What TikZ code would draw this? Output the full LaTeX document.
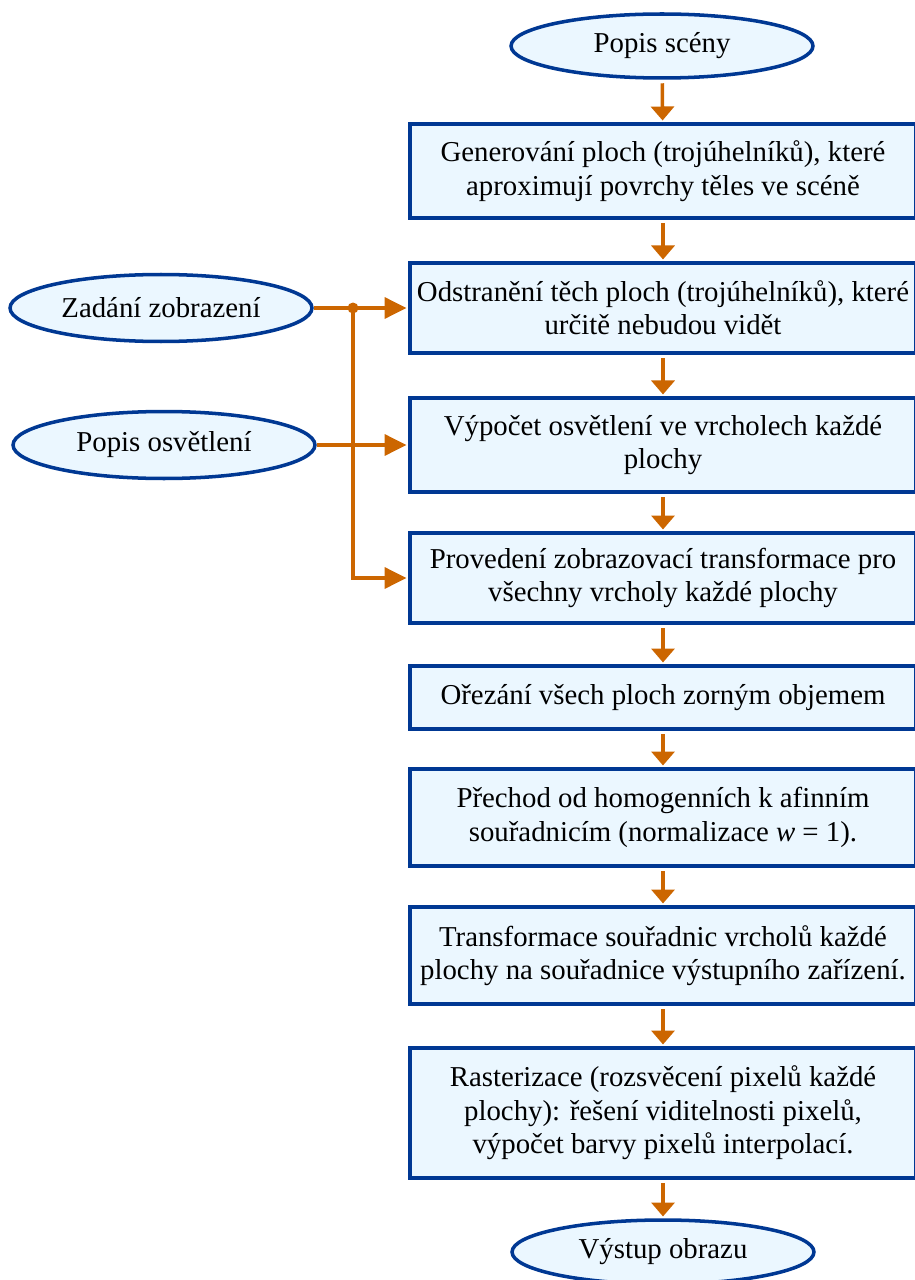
\documentclass[tikz,border=0pt]{standalone}
\usepackage{fontspec}
\setmainfont{Liberation Serif}
\usepackage{xcolor}
\usepackage{tikz}
\usetikzlibrary{shapes.geometric, arrows.meta, positioning}
\definecolor{boxblue}{RGB}{0, 56, 147}
\definecolor{paleblue}{RGB}{235, 247, 255}
\definecolor{flowtan}{RGB}{204, 102, 0}

\begin{document}
\begin{tikzpicture}[
        x=0.02cm, y=-0.02cm,
        font=\fontsize{16.4}{19}\selectfont,
        term/.style={ellipse, draw=boxblue, fill=paleblue, line width=2pt, minimum width=6.04cm, minimum height=1.28cm, inner sep=0pt, align=center},
        task/.style={rectangle, draw=boxblue, fill=paleblue, line width=2pt, minimum width=10.12cm, align=center, inner sep=2pt},
        vlink/.style={-{Triangle[width=0.46cm, length=0.28cm]}, line width=2pt, color=flowtan, shorten <=2pt, shorten >=1pt},
        hlink/.style={-{Triangle[width=0.42cm, length=0.44cm]}, line width=2pt, color=flowtan, shorten >=1pt},
        dot/.style={circle, fill=flowtan, inner sep=0pt, minimum size=0.22cm}
    ]
        \useasboundingbox (0,0) rectangle (915,1280);

        % Main Column
        \node[term] (scene) at (662, 46) {Popis scény};
        \node[task, minimum height=1.88cm] (b1) at (663, 171) {Generování ploch (trojúhelníků), které\\aproximují povrchy těles ve scéně};
        \node[task, minimum height=1.80cm] (b2) at (663, 308) {Odstranění těch ploch (trojúhelníků), které\\určitě nebudou vidět};
        \node[task, minimum height=1.88cm] (b3) at (663, 445) {Výpočet osvětlení ve vrcholech každé\\plochy};
        \node[task, minimum height=1.80cm] (b4) at (663, 578) {Provedení zobrazovací transformace pro\\všechny vrcholy každé plochy};
        \node[task, minimum height=1.26cm] (b5) at (663, 697.5) {Ořezání všech ploch zorným objemem};
        \node[task, minimum height=1.94cm] (b6) at (663, 817.5) {Přechod od homogenních k afinním\\souřadnicím (normalizace \textit{w} = 1).};
        \node[task, minimum height=1.94cm] (b7) at (663, 955.5) {Transformace souřadnic vrcholů každé\\plochy na souřadnice výstupního zařízení.};
        \node[task, minimum height=2.60cm] (b8) at (663, 1113) {Rasterizace (rozsvěcení pixelů každé\\plochy): řešení viditelnosti pixelů,\\výpočet barvy pixelů interpolací.};
        \node[term] (out) at (663, 1252) {Výstup obrazu};

        % Left Inputs
        \node[term, minimum height=1.34cm] (view) at (161, 308) {Zadání zobrazení};
        \node[term, minimum height=1.34cm] (light) at (164, 445) {Popis osvětlení};
        \node[dot] (jn) at (353, 308) {};

        % Connections
        \draw[vlink] (scene) -- (b1);
        \draw[vlink] (b1) -- (b2);
        \draw[vlink] (b2) -- (b3);
        \draw[vlink] (b3) -- (b4);
        \draw[vlink] (b4) -- (b5);
        \draw[vlink] (b5) -- (b6);
        \draw[vlink] (b6) -- (b7);
        \draw[vlink] (b7) -- (b8);
        \draw[vlink] (b8) -- (out);
        \draw[hlink] (view) -- (b2);
        \draw[hlink] (light) -- (b3);
        \draw[hlink] (jn.center) |- (b4);
    \end{tikzpicture}
\end{document}
